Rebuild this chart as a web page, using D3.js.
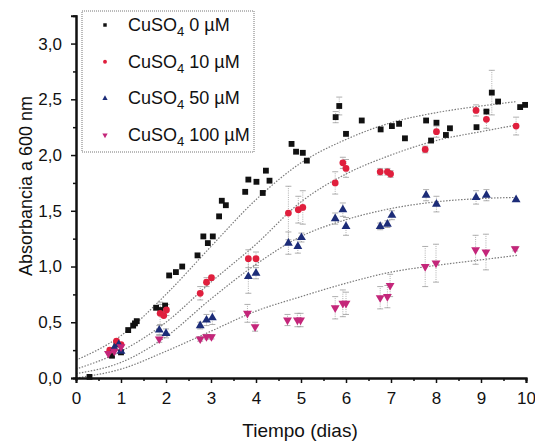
<!DOCTYPE html>
<html>
<head>
<meta charset="utf-8">
<script src="https://cdn.jsdelivr.net/npm/d3@7"></script>
<style>
  body { margin: 0; background: #fff; }
  text { font-family: "Liberation Sans", Arial, sans-serif; fill: #111; }
</style>
</head>
<body>
<svg id="chart" width="535" height="443"></svg>
<script>
// CuSO4 0 uM
const dias0 = [0.3,0.8,0.9,1.0,1.16,1.27,1.31,1.35,1.78,1.88,1.98,2.07,2.22,2.36,2.7,2.83,2.93,3.04,3.18,3.24,3.33,3.76,3.83,4.01,4.15,4.22,4.3,4.79,4.89,5.04,5.13,5.77,5.85,6.0,6.35,6.77,7.02,7.18,7.31,7.78,7.89,8.01,8.22,8.31,8.9,9.12,9.24,9.38,9.87,9.98];
const abs0  = [0.01,0.2,0.3,0.23,0.43,0.47,0.49,0.51,0.63,0.61,0.65,0.92,0.95,1.0,1.1,1.27,1.21,1.27,1.45,1.59,1.55,1.67,1.78,1.76,1.66,1.86,1.77,2.1,2.03,2.02,1.95,2.34,2.44,2.19,2.31,2.23,2.26,2.28,2.15,2.31,2.13,2.29,2.18,2.24,2.25,2.39,2.56,2.48,2.43,2.45];
const err0  = [0,0,0,0,0,0,0,0,0,0.05,0,0,0,0,0,0,0,0,0,0,0,0,0,0,0,0,0,0,0,0,0,0.05,0.08,0,0,0,0,0,0,0,0,0,0,0,0,0,0.2,0,0,0];

// CuSO4 10 uM
const dias1 = [0.75,0.9,1.0,1.87,1.95,2.01,2.76,2.9,3.01,3.83,4.0,4.72,4.94,5.04,5.76,5.93,6.0,6.76,6.92,6.99,7.76,8.01,8.89,9.12,9.78];
const abs1  = [0.25,0.33,0.3,0.58,0.56,0.61,0.76,0.86,0.9,1.07,1.07,1.48,1.51,1.53,1.75,1.93,1.88,1.85,1.85,1.83,2.05,2.21,2.4,2.32,2.26];
const err1  = [0,0,0,0.1,0,0.05,0.06,0.04,0,0.08,0.06,0.24,0.12,0.15,0.1,0.05,0.08,0.03,0.03,0.03,0.03,0.05,0.05,0.08,0.08];

// CuSO4 50 uM
const dias2 = [0.85,0.95,1.0,1.85,2.0,2.76,2.9,3.03,3.83,4.0,4.72,4.93,5.01,5.76,5.93,6.0,6.76,6.92,7.02,7.78,8.01,8.89,9.12,9.78];
const abs2  = [0.27,0.3,0.24,0.43,0.4,0.47,0.52,0.54,0.91,0.94,1.21,1.18,1.26,1.43,1.51,1.36,1.36,1.38,1.46,1.64,1.56,1.62,1.64,1.6];
const err2  = [0,0,0,0.04,0.04,0.03,0.05,0.06,0.15,0.05,0.1,0.06,0.04,0.05,0.06,0.08,0.03,0.03,0.04,0.05,0.07,0.06,0.05,0];

// CuSO4 100 uM
const dias3 = [0.72,0.85,1.0,1.85,2.76,2.9,3.01,3.81,3.98,4.7,4.92,4.99,5.76,5.93,6.0,6.76,6.92,6.98,7.76,8.0,8.88,9.11,9.76];
const abs3  = [0.22,0.24,0.28,0.35,0.35,0.37,0.37,0.58,0.46,0.52,0.52,0.52,0.63,0.67,0.67,0.72,0.73,0.83,1.0,1.03,1.15,1.13,1.16];
const err3  = [0,0,0,0.03,0.02,0.02,0.02,0.08,0.04,0.05,0.06,0.06,0.1,0.12,0.1,0.1,0.1,0.1,0.18,0.17,0.13,0.16,0.02];

// fitted curves
const ajusteX = [0,1,2,3,4,5,6,7,8,9,9.8];
const ajuste0 = [0.16,0.38,0.75,1.18,1.6,1.93,2.14,2.29,2.38,2.44,2.48];
const ajuste1 = [0.08,0.24,0.5,0.86,1.2,1.58,1.83,2.0,2.13,2.21,2.27];
const ajuste2 = [0.04,0.14,0.37,0.71,1.02,1.27,1.42,1.52,1.58,1.61,1.62];
const ajuste3 = [0.0,0.08,0.24,0.42,0.6,0.73,0.85,0.95,1.01,1.06,1.1];

const etiquetas = ["0 \u00b5M", "10 \u00b5M", "50 \u00b5M", "100 \u00b5M"];
const colores = ["#111111", "#e01f3d", "#1c2c78", "#c4267a"];
const simbolos = [d3.symbolSquare, d3.symbolCircle, d3.symbolTriangle, d3.symbolTriangle];

const xTicks = [0,1,2,3,4,5,6,7,8,9,10];
const yTicks = [0,0.5,1.0,1.5,2.0,2.5,3.0];

let series = [
  {x: dias0, y: abs0, e: err0, fit: ajuste0},
  {x: dias1, y: abs1, e: err1, fit: ajuste1},
  {x: dias2, y: abs2, e: err2, fit: ajuste2},
  {x: dias3, y: abs3, e: err3, fit: ajuste3}
];

let svg = d3.select("#chart");
let x = d3.scaleLinear().domain([0, 10]).range([76, 526]);
let y = d3.scaleLinear().domain([0, 3.25]).range([378, 15.7]);
let fmt = d => d3.format(".1f")(d).replace(".", ",");

// fitted curves
let line = d3.line().x(d => x(d[0])).y(d => y(d[1])).curve(d3.curveMonotoneX);
series.forEach(function(s){
  svg.append("path")
    .attr("d", line(ajusteX.map((v, i) => [v, s.fit[i]])))
    .attr("fill", "none")
    .attr("stroke", "#7a7a7a")
    .attr("stroke-width", 1.2)
    .attr("stroke-dasharray", "1.5,1.5");
});

// error bars
series.forEach(function(s){
  s.x.forEach(function(v, i){
    let e = s.e[i];
    if (!e) return;
    let g = svg.append("g").attr("stroke", "#9a9a9a").attr("stroke-width", 0.8);
    g.append("line").attr("x1", x(v)).attr("x2", x(v))
      .attr("y1", y(s.y[i] - e)).attr("y2", y(s.y[i] + e))
      .attr("stroke-dasharray", "1,1.2");
    [s.y[i] - e, s.y[i] + e].forEach(function(t){
      g.append("line").attr("x1", x(v) - 3).attr("x2", x(v) + 3)
        .attr("y1", y(t)).attr("y2", y(t));
    });
  });
});

// points
series.forEach(function(s, k){
  let sym = d3.symbol().type(simbolos[k]).size(k == 1 ? 36 : 34);
  s.x.forEach(function(v, i){
    svg.append("path")
      .attr("d", sym())
      .attr("transform", "translate(" + x(v) + "," + y(s.y[i]) + ")" + (k == 3 ? " rotate(180)" : ""))
      .attr("fill", colores[k]);
  });
});

// axes
let xAxis = svg.append("g").attr("transform", "translate(0,378)")
  .call(d3.axisBottom(x).tickValues(xTicks).tickFormat(d3.format("d")).tickSize(5).tickPadding(9));
let xMinor = svg.append("g").attr("transform", "translate(0,378)")
  .call(d3.axisBottom(x).tickValues(d3.range(0.5, 10, 1)).tickFormat("").tickSize(3));
let yAxis = svg.append("g").attr("transform", "translate(76,0)")
  .call(d3.axisLeft(y).tickValues(yTicks).tickFormat(fmt).tickSize(5).tickPadding(9));
let yMinor = svg.append("g").attr("transform", "translate(76,0)")
  .call(d3.axisLeft(y).tickValues(d3.range(0.25, 3.25, 0.5)).tickFormat("").tickSize(3));

[xAxis, xMinor, yAxis, yMinor].forEach(function(a){
  a.select(".domain").attr("stroke", "#111").attr("stroke-width", 2);
  a.selectAll(".tick line").attr("stroke", "#111").attr("stroke-width", 1.5);
  a.selectAll("text").style("font-size", "17px").attr("fill", "#111");
});

// axis titles
svg.append("text")
  .attr("x", 300).attr("y", 437)
  .attr("text-anchor", "middle")
  .style("font-size", "19px")
  .text("Tiempo (dias)");

svg.append("text")
  .attr("transform", "translate(32,186) rotate(-90)")
  .attr("text-anchor", "middle")
  .style("font-size", "18px")
  .text("Absorbancia a 600 nm");

// legend
svg.append("rect")
  .attr("x", 82).attr("y", 11).attr("width", 172).attr("height", 141)
  .attr("fill", "#fff")
  .attr("stroke", "#777").attr("stroke-width", 1)
  .attr("stroke-dasharray", "1,1");

etiquetas.forEach(function(t, k){
  let ly = 25 + k * 36.7;
  svg.append("path")
    .attr("d", d3.symbol().type(simbolos[k]).size(12)())
    .attr("transform", "translate(105," + ly + ")" + (k == 3 ? " rotate(180)" : ""))
    .attr("fill", colores[k]);
  let tx = svg.append("text")
    .attr("x", 128).attr("y", ly + 6)
    .style("font-size", "18px");
  tx.append("tspan").text("CuSO");
  tx.append("tspan").attr("dy", 5).style("font-size", "13px").text("4");
  tx.append("tspan").attr("dy", -5).text(" " + t);
});
</script>
</body>
</html>
